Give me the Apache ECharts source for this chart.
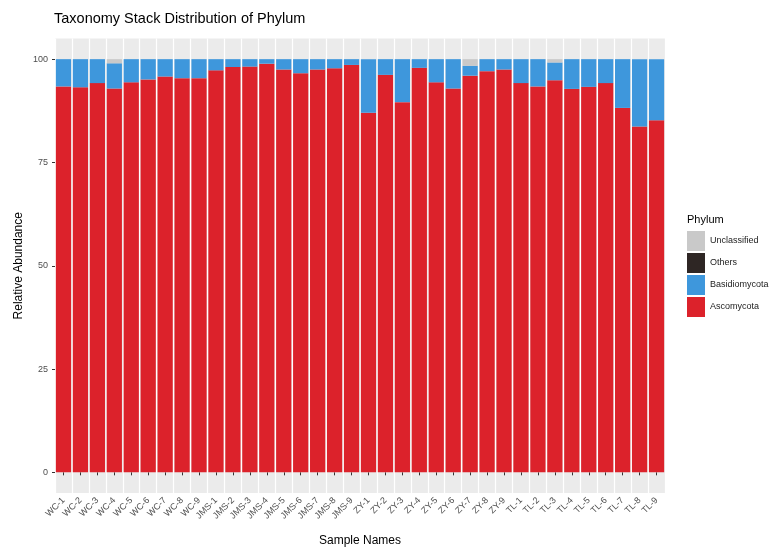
<!DOCTYPE html>
<html>
<head>
<meta charset="utf-8">
<script src="https://cdn.jsdelivr.net/npm/echarts@6/dist/echarts.min.js"></script>
<style>
  html, body { margin: 0; padding: 0; background: #fff; }
  #chart { width: 784px; height: 548px; }
</style>
</head>
<body>
<div id="chart"></div>
<script>
// Sample names (x categories)
var samples = [
  'WC-1','WC-2','WC-3','WC-4','WC-5','WC-6','WC-7','WC-8','WC-9',
  'JMS-1','JMS-2','JMS-3','JMS-4','JMS-5','JMS-6','JMS-7','JMS-8','JMS-9',
  'ZY-1','ZY-2','ZY-3','ZY-4','ZY-5','ZY-6','ZY-7','ZY-8','ZY-9',
  'TL-1','TL-2','TL-3','TL-4','TL-5','TL-6','TL-7','TL-8','TL-9'
];

// Relative abundance (%) per phylum
var ascomycota = [
  93.4, 93.2, 94.2, 92.9, 94.4, 95.1, 95.8, 95.4, 95.4,
  97.3, 98.1, 98.2, 98.9, 97.5, 96.6, 97.5, 97.8, 98.6,
  87.0, 96.2, 89.6, 97.9, 94.4, 92.9, 96.0, 97.1, 97.5,
  94.2, 93.4, 94.9, 92.8, 93.3, 94.2, 88.2, 83.7, 85.2
];
var basidiomycota = [
  6.6, 6.8, 5.8, 6.1, 5.6, 4.9, 4.2, 4.6, 4.6,
  2.7, 1.9, 1.8, 1.1, 2.5, 3.4, 2.5, 2.2, 1.4,
  13.0, 3.8, 10.4, 2.1, 5.6, 7.1, 2.4, 2.9, 2.5,
  5.8, 6.6, 4.3, 7.2, 6.7, 5.8, 11.8, 16.3, 14.8
];
var others = [
  0, 0, 0, 0, 0, 0, 0, 0, 0,
  0, 0, 0, 0, 0, 0, 0, 0, 0,
  0, 0, 0, 0, 0, 0, 0, 0, 0,
  0, 0, 0, 0, 0, 0, 0, 0, 0
];
var unclassified = [
  0, 0, 0, 1.0, 0, 0, 0, 0, 0,
  0, 0, 0, 0, 0, 0, 0, 0, 0,
  0, 0, 0, 0, 0, 0, 1.6, 0, 0,
  0, 0, 0.8, 0, 0, 0, 0, 0, 0
];

// Y axis tick labels
var yTicks = [0, 25, 50, 75, 100];

var phylumColors = {
  'Ascomycota': '#DC222B',
  'Basidiomycota': '#3E97DC',
  'Others': '#2E2624',
  'Unclassified': '#C9C9C9'
};

var FONT = '"Liberation Sans", Arial, Helvetica, sans-serif';

function stackSeries(name, values) {
  return {
    name: name,
    type: 'bar',
    stack: 'phylum',
    data: values,
    barCategoryGap: '10%',
    itemStyle: { color: phylumColors[name] },
    emphasis: { disabled: true }
  };
}

var chart = echarts.init(document.getElementById('chart'), null, { renderer: 'canvas' });

chart.setOption({
  animation: false,
  textStyle: { fontFamily: FONT },
  title: {
    text: 'Taxonomy Stack Distribution of Phylum',
    left: 54,
    top: 11,
    padding: 0,
    textStyle: { fontFamily: FONT, fontSize: 14.5, fontWeight: 'normal', color: '#000' }
  },
  graphic: [{
    type: 'text',
    left: 687,
    top: 214,
    style: { text: 'Phylum', fontFamily: FONT, fontSize: 11, fill: '#000' }
  }],
  legend: {
    orient: 'vertical',
    left: 687,
    top: 231,
    padding: 0,
    icon: 'rect',
    itemWidth: 18,
    itemHeight: 20,
    itemGap: 2,
    selectedMode: false,
    data: ['Unclassified', 'Others', 'Basidiomycota', 'Ascomycota'],
    textStyle: { fontFamily: FONT, fontSize: 9, color: '#222' }
  },
  grid: {
    left: 55,
    right: 119,
    top: 38.5,
    bottom: 55,
    show: true,
    backgroundColor: '#EBEBEB',
    borderWidth: 0,
    containLabel: false,
    outerBoundsMode: 'none'
  },
  xAxis: {
    type: 'category',
    data: samples,
    name: 'Sample Names',
    nameLocation: 'middle',
    nameGap: 42,
    nameTextStyle: { fontFamily: FONT, fontSize: 12, color: '#000' },
    axisLine: { show: false },
    axisTick: { show: true, alignWithLabel: true, length: 3, lineStyle: { color: '#333', width: 1 } },
    axisLabel: {
      rotate: 45,
      interval: 0,
      margin: 6,
      fontFamily: FONT,
      fontSize: 9,
      color: '#4D4D4D'
    },
    splitLine: { show: true, lineStyle: { color: '#FFFFFF', width: 1.2 } }
  },
  yAxis: {
    type: 'value',
    min: -5,
    max: 105,
    name: 'Relative Abundance',
    nameLocation: 'middle',
    nameGap: 30,
    nameRotate: 90,
    nameMoveOverlap: false,
    nameTextStyle: { fontFamily: FONT, fontSize: 12, color: '#000' },
    axisLine: { show: false },
    axisTick: { show: true, length: 3, customValues: yTicks, lineStyle: { color: '#333', width: 1 } },
    axisLabel: {
      customValues: yTicks,
      margin: 7,
      fontFamily: FONT,
      fontSize: 9,
      color: '#4D4D4D'
    },
    splitLine: { show: false }
  },
  series: [
    stackSeries('Ascomycota', ascomycota),
    stackSeries('Basidiomycota', basidiomycota),
    stackSeries('Others', others),
    stackSeries('Unclassified', unclassified)
  ]
});
</script>
</body>
</html>
